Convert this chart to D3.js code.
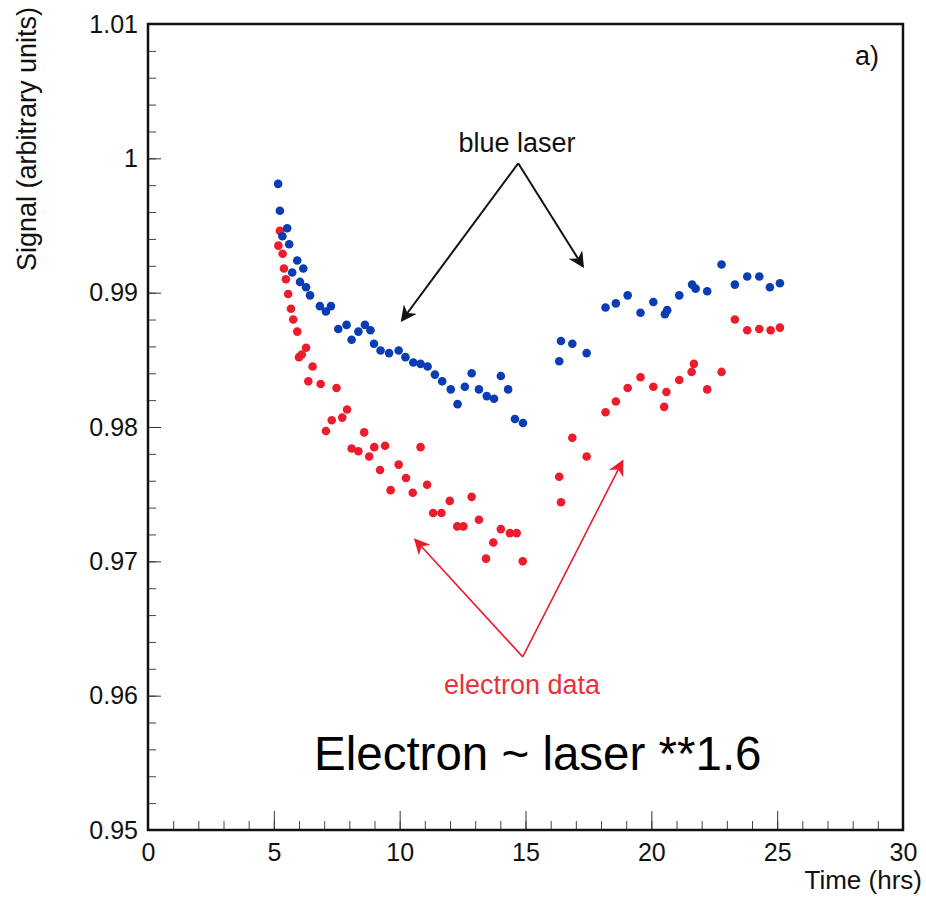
<!DOCTYPE html>
<html>
<head>
<meta charset="utf-8">
<script src="https://cdn.jsdelivr.net/npm/d3@7"></script>
<style>
  body { margin: 0; background: #fff; }
  text { font-family: "Liberation Sans", Arial, sans-serif; }
</style>
</head>
<body>
<svg></svg>
<script>
// values: time (hrs), signal
const blueTime = [5.17, 5.24, 5.34, 5.53, 5.61, 5.73, 5.93, 6.04, 6.17, 6.28, 6.44, 6.83, 7.07, 7.27, 7.56, 7.89, 8.09, 8.36, 8.62, 8.84, 8.98, 9.24, 9.58, 9.96, 10.23, 10.54, 10.83, 11.11, 11.40, 11.69, 12.03, 12.30, 12.59, 12.86, 13.15, 13.46, 13.75, 14.02, 14.31, 14.58, 14.90, 16.34, 16.41, 16.86, 17.43, 18.18, 18.59, 19.06, 19.57, 20.08, 20.54, 20.63, 21.11, 21.62, 21.76, 22.22, 22.79, 23.32, 23.81, 24.29, 24.71, 25.11];
const blueSignal = [0.9981, 0.9961, 0.9942, 0.9948, 0.9936, 0.9915, 0.9924, 0.9908, 0.9918, 0.9904, 0.9898, 0.9890, 0.9886, 0.9890, 0.9873, 0.9876, 0.9865, 0.9871, 0.9876, 0.9872, 0.9862, 0.9857, 0.9855, 0.9857, 0.9852, 0.9848, 0.9847, 0.9845, 0.9839, 0.9834, 0.9828, 0.9817, 0.9830, 0.9840, 0.9828, 0.9823, 0.9821, 0.9838, 0.9828, 0.9806, 0.9803, 0.9849, 0.9864, 0.9862, 0.9855, 0.9889, 0.9892, 0.9898, 0.9885, 0.9893, 0.9884, 0.9887, 0.9898, 0.9906, 0.9903, 0.9901, 0.9921, 0.9906, 0.9912, 0.9912, 0.9904, 0.9907];

const redTime = [5.18, 5.24, 5.35, 5.40, 5.48, 5.57, 5.68, 5.77, 5.93, 6.00, 6.11, 6.28, 6.37, 6.54, 6.86, 7.07, 7.30, 7.49, 7.72, 7.91, 8.09, 8.36, 8.59, 8.79, 8.99, 9.22, 9.42, 9.64, 9.96, 10.25, 10.52, 10.83, 11.09, 11.33, 11.66, 11.99, 12.29, 12.53, 12.86, 13.15, 13.43, 13.72, 14.02, 14.38, 14.65, 14.89, 16.34, 16.41, 16.86, 17.43, 18.18, 18.59, 19.06, 19.57, 20.08, 20.51, 20.60, 21.11, 21.60, 21.69, 22.22, 22.79, 23.32, 23.81, 24.29, 24.74, 25.11];
const redSignal = [0.9935, 0.9946, 0.9929, 0.9918, 0.9910, 0.9899, 0.9888, 0.9880, 0.9871, 0.9852, 0.9854, 0.9859, 0.9834, 0.9845, 0.9832, 0.9797, 0.9805, 0.9829, 0.9807, 0.9813, 0.9784, 0.9782, 0.9796, 0.9778, 0.9785, 0.9768, 0.9786, 0.9753, 0.9772, 0.9762, 0.9751, 0.9785, 0.9757, 0.9736, 0.9736, 0.9745, 0.9726, 0.9726, 0.9748, 0.9731, 0.9702, 0.9714, 0.9724, 0.9721, 0.9721, 0.9700, 0.9763, 0.9744, 0.9792, 0.9778, 0.9811, 0.9819, 0.9829, 0.9837, 0.9830, 0.9815, 0.9826, 0.9835, 0.9841, 0.9847, 0.9828, 0.9841, 0.9880, 0.9872, 0.9873, 0.9872, 0.9874];

const xTicks = [0, 5, 10, 15, 20, 25, 30];
const xTickLabels = ['0', '5', '10', '15', '20', '25', '30'];
const yTicks = [0.95, 0.96, 0.97, 0.98, 0.99, 1.00, 1.01];
const yTickLabels = ['0.95', '0.96', '0.97', '0.98', '0.99', '1', '1.01'];

// annotation arrows (apex -> tips), data coords
const blueApex = [14.71, 0.99963];
const blueTips = [[10.08, 0.98791], [17.29, 0.99193]];
const redApex = [14.89, 0.96289];
const redTips = [[10.61, 0.97163], [18.86, 0.97748]];

const width = 926, height = 920;
const plotL = 148, plotR = 903, plotT = 24, plotB = 830;
const blue = '#0a3cb4', red = '#ec1c2c';

const svg = d3.select('svg')
  .attr('width', width)
  .attr('height', height);

const x = d3.scaleLinear().domain([0, 30]).range([plotL, plotR]);
const y = d3.scaleLinear().domain([0.95, 1.01]).range([plotB, plotT]);

// minor ticks first, then major
svg.append('g')
  .attr('transform', `translate(0,${plotB})`)
  .call(d3.axisBottom(x).tickValues(d3.range(0, 31, 1)).tickSize(-9).tickFormat(''))
  .call(g => g.select('.domain').remove())
  .selectAll('line').attr('stroke', '#444');

svg.append('g')
  .attr('transform', `translate(${plotL},0)`)
  .call(d3.axisLeft(y).tickValues(d3.range(0, 31).map(i => 0.95 + i * 0.002)).tickSize(-8).tickFormat(''))
  .call(g => g.select('.domain').remove())
  .selectAll('line').attr('stroke', '#444');

const xAxis = svg.append('g')
  .attr('transform', `translate(0,${plotB})`)
  .call(d3.axisBottom(x).tickValues(xTicks).tickSize(-19).tickPadding(13)
    .tickFormat((d, i) => xTickLabels[i]));
xAxis.select('.domain').remove();
xAxis.selectAll('line').attr('stroke', '#333');
xAxis.selectAll('text').attr('font-size', 25).attr('fill', '#111')
  .attr('font-family', '"Liberation Sans", Arial, sans-serif');

const yAxis = svg.append('g')
  .attr('transform', `translate(${plotL},0)`)
  .call(d3.axisLeft(y).tickValues(yTicks).tickSize(-13).tickPadding(10)
    .tickFormat((d, i) => yTickLabels[i]));
yAxis.select('.domain').remove();
yAxis.selectAll('line').attr('stroke', '#333');
yAxis.selectAll('text').attr('font-size', 25).attr('fill', '#111')
  .attr('font-family', '"Liberation Sans", Arial, sans-serif');

// frame
svg.append('rect')
  .attr('x', plotL).attr('y', plotT)
  .attr('width', plotR - plotL).attr('height', plotB - plotT)
  .attr('fill', 'none').attr('stroke', '#111').attr('stroke-width', 2.5);

// axis titles
svg.append('text')
  .attr('transform', 'translate(36,271) rotate(-90)')
  .attr('font-size', 27).attr('fill', '#111')
  .text('Signal (arbitrary units)');

svg.append('text')
  .attr('x', 922).attr('y', 889)
  .attr('text-anchor', 'end')
  .attr('font-size', 26).attr('fill', '#111')
  .text('Time (hrs)');

svg.append('text')
  .attr('x', 855).attr('y', 65)
  .attr('font-size', 27).attr('fill', '#111')
  .text('a)');

// points
const blueData = blueTime.map((t, i) => ({t, s: blueSignal[i]}));
const redData = redTime.map((t, i) => ({t, s: redSignal[i]}));

svg.append('g').selectAll('circle').data(redData)
  .enter().append('circle')
  .attr('cx', d => x(d.t))
  .attr('cy', d => y(d.s))
  .attr('r', 4.3)
  .attr('fill', red);

svg.append('g').selectAll('circle').data(blueData)
  .enter().append('circle')
  .attr('cx', d => x(d.t))
  .attr('cy', d => y(d.s))
  .attr('r', 4.3)
  .attr('fill', blue);

// arrowheads
const defs = svg.append('defs');
const marker = (id, color) => defs.append('marker')
  .attr('id', id)
  .attr('viewBox', '0 0 10 10')
  .attr('refX', 9).attr('refY', 5)
  .attr('markerWidth', 16).attr('markerHeight', 16)
  .attr('markerUnits', 'userSpaceOnUse')
  .attr('orient', 'auto')
  .append('path')
  .attr('d', 'M0,0 L10,5 L0,10 L3,5 Z')
  .attr('fill', color);
marker('headBlack', '#111');
marker('headRed', red);

const drawArrows = (apex, tips, color, id, w) => {
  tips.forEach(tip => {
    svg.append('line')
      .attr('x1', x(apex[0])).attr('y1', y(apex[1]))
      .attr('x2', x(tip[0])).attr('y2', y(tip[1]))
      .attr('stroke', color).attr('stroke-width', w)
      .attr('marker-end', `url(#${id})`);
  });
};
drawArrows(blueApex, blueTips, '#111', 'headBlack', 2);
drawArrows(redApex, redTips, red, 'headRed', 1.6);

svg.append('text')
  .attr('x', 517).attr('y', 152)
  .attr('text-anchor', 'middle')
  .attr('font-size', 27).attr('fill', '#111')
  .text('blue laser');

svg.append('text')
  .attr('x', 522).attr('y', 694)
  .attr('text-anchor', 'middle')
  .attr('font-size', 27).attr('fill', '#e8323c')
  .text('electron data');

svg.append('text')
  .attr('x', 314).attr('y', 770)
  .attr('font-size', 47.5).attr('fill', '#000')
  .text('Electron ~ laser **1.6');
</script>
</body>
</html>
